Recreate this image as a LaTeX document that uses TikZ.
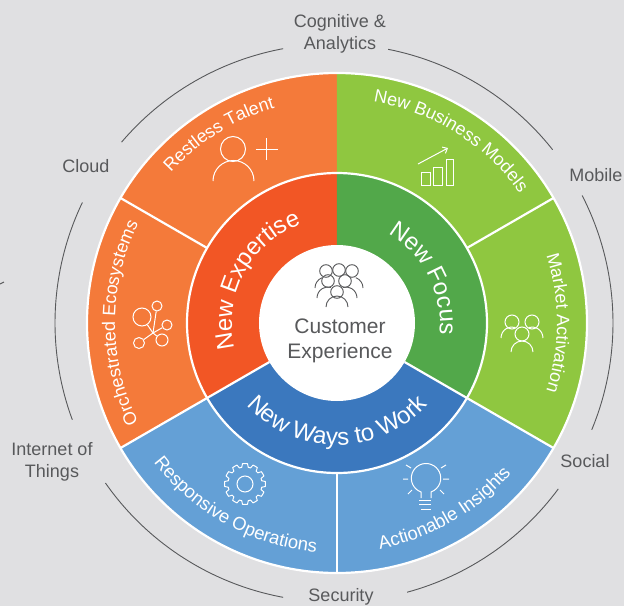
\documentclass[tikz,border=0pt]{standalone}
\usepackage{fontspec}
\setmainfont{Liberation Sans}
\usetikzlibrary{
	arrows.meta,
	decorations.text
}
\definecolor{pagegray}{HTML}{E0E0E2}
\definecolor{inkgray}{HTML}{58595B}
\definecolor{orangeout}{HTML}{F47A3A}
\definecolor{orangein}{HTML}{F25625}
\definecolor{greenout}{HTML}{8FC740}
\definecolor{greenin}{HTML}{52A84A}
\definecolor{blueout}{HTML}{64A0D6}
\definecolor{bluein}{HTML}{3B78BE}
\newcommand{\ringtext}[5]{
	\path [decorate, decoration={text along path, text align=center, text color=white,
		text={|\fontsize{#4}{#4}\selectfont|#5}}]
		(#1:#3) arc [start angle=#1, end angle=#2, radius=#3];
}
\begin{document}
\begin{tikzpicture}[
	x=1pt, y=1pt,
	spoke/.style = {white, line width=2.2pt},
	guide/.style = {inkgray, line width=0.9pt},
	icon/.style = {white, line width=1pt},
	grayicon/.style = {inkgray, line width=0.9pt},
	outer/.style = {inkgray, align=center, font=\fontsize{18}{22}\selectfont}
]
	\useasboundingbox [fill=pagegray] (-337,-283) rectangle (287,323);

	% outer and middle rings
	\foreach \from/\to/\col in {90/210/orangeout, -30/90/greenout, 210/330/blueout}
		\fill [\col] (0,0) -- (\from:250) arc [start angle=\from, end angle=\to, radius=250] -- cycle;
	\foreach \from/\to/\col in {90/210/orangein, -30/90/greenin, 210/330/bluein}
		\fill [\col] (0,0) -- (\from:150) arc [start angle=\from, end angle=\to, radius=150] -- cycle;
	\draw [spoke] (0,0) circle [radius=250];
	\draw [spoke] (0,0) circle [radius=150];
	\foreach \ang in {30,150,270}
		\draw [spoke] (\ang:150) -- (\ang:250);
	\foreach \ang in {210,330}
		\draw [spoke] (\ang:78) -- (\ang:250);
	\fill [white] (0,0) circle [radius=78];

	% ring labels
	\ringtext{152}{92}{224}{18}{Restless Talent}
	\ringtext{210}{150}{222}{18}{Orchestrated Ecosystems}
	\ringtext{88}{28}{224}{18}{New Business Models}
	\ringtext{30}{-30}{220}{18}{Market Activation}
	\ringtext{211}{271}{230}{18.4}{Responsive Operations}
	\ringtext{270}{330}{230}{18.4}{Actionable Insights}
	\ringtext{212}{92}{105}{24}{New Expertise}
	\ringtext{87}{-33}{103}{24}{New Focus}
	\ringtext{210}{330}{122}{24}{New Ways to Work}

	% centre and outside labels
	\node (customer) [inkgray, align=center, font=\fontsize{21}{25}\selectfont] at (3,-18) {Customer\\Experience};
	\node (cognitive) [outer] at (3,289) {Cognitive \&\\Analytics};
	\node (cloud) [outer] at (-251,157) {Cloud};
	\node (mobile) [outer] at (259,148) {Mobile};
	\node (social) [outer] at (248,-138) {Social};
	\node (iot) [outer] at (-285,-139) {Internet of\\Things};
	\node (security) [outer] at (4,-274) {Security};

	% arcs between the outside labels
	\foreach \from/\to in {100.5/139.6, 154.4/200.3, 215/259.5, 285.2/323.5, 337.5/387.2, 38.4/78.8}
		\draw [guide, shift={(-3,0)}] (\from:279) arc [start angle=\from, end angle=\to, radius=279];

	% icons, in picture pixels
	\begin{scope}[x=1pt, y=-1pt, shift={(-337pt,323pt)}]
		\draw [guide] (0,284) -- (4,282);
		% person and plus
		\draw [icon] (233,149) circle [radius=12.5pt];
		\draw [icon] (213,181) arc [start angle=180, end angle=0, radius=20.5pt];
		\draw [icon] (256,149) -- (278,149) (267,138) -- (267,160);
		% chart
		\draw [icon] (421,172) rectangle (430,185);
		\draw [icon] (433,167) rectangle (442,185);
		\draw [icon] (446,159) rectangle (453,185);
		\draw [icon, -{Straight Barb[length=4pt,width=7pt]}] (418,164) -- (448,148);
		% network
		\coordinate (hub) at (153,333);
		\node (netA) [circle, draw=white, line width=1pt, inner sep=0, minimum size=18pt] at (142,317) {};
		\node (netB) [circle, draw=white, line width=1pt, inner sep=0, minimum size=10pt] at (157,306) {};
		\node (netC) [circle, draw=white, line width=1pt, inner sep=0, minimum size=10pt] at (167,325) {};
		\node (netD) [circle, draw=white, line width=1pt, inner sep=0, minimum size=12pt] at (162,340) {};
		\node (netE) [circle, draw=white, line width=1pt, inner sep=0, minimum size=11pt] at (139,343) {};
		\foreach \n in {netA,netB,netC,netD,netE}
			\draw [icon] (hub) -- (\n);
		% three people
		\foreach \x/\y in {512/322, 532/322, 522/334}
			\draw [icon] (\x,\y) circle [radius=7pt];
		\draw [icon] (501,338) arc [start angle=180, end angle=75, radius=11pt];
		\draw [icon] (543,338) arc [start angle=0, end angle=105, radius=11pt];
		\draw [icon] (511,352) arc [start angle=180, end angle=0, radius=11pt];
		% gear
		\begin{scope}[shift={(245,484)}]
			\draw [icon, line join=round] (0:20.5pt)
				\foreach \a in {0,30,...,330} {
					-- (\a+7:20.5pt) -- (\a+11:17pt) -- (\a+19:17pt) -- (\a+23:20.5pt) -- (\a+30:20.5pt)
				} -- cycle;
			\draw [icon] (0,0) circle [radius=8pt];
		\end{scope}
		% bulb
		\draw [icon] (421,498) -- (421,492) arc [start angle=250, end angle=-70, radius=14.7pt] -- (431,498);
		\draw [icon] (419,500) -- (431,500) (419,504) -- (431,504) (421,509) -- (431,509);
		\draw [icon] (403,479) -- (408,479) (443,479) -- (449,479)
			(406,465) -- (411,468) (446,465) -- (441,468)
			(408,494) -- (412,490) (444,494) -- (440,490);
		% crowd
		\foreach \x/\y in {326/271, 339/270, 352/271, 328/281, 345/281, 337/292}
			\draw [grayicon] (\x,\y) circle [radius=6.3pt];
		\draw [grayicon] (315,288) arc [start angle=180, end angle=110, radius=11pt];
		\draw [grayicon] (363,288) arc [start angle=0, end angle=70, radius=11pt];
		\draw [grayicon] (317,298) arc [start angle=180, end angle=75, radius=11pt];
		\draw [grayicon] (357,298) arc [start angle=0, end angle=105, radius=11pt];
		\draw [grayicon] (326,307) arc [start angle=180, end angle=0, radius=11pt];
	\end{scope}
\end{tikzpicture}
\end{document}
